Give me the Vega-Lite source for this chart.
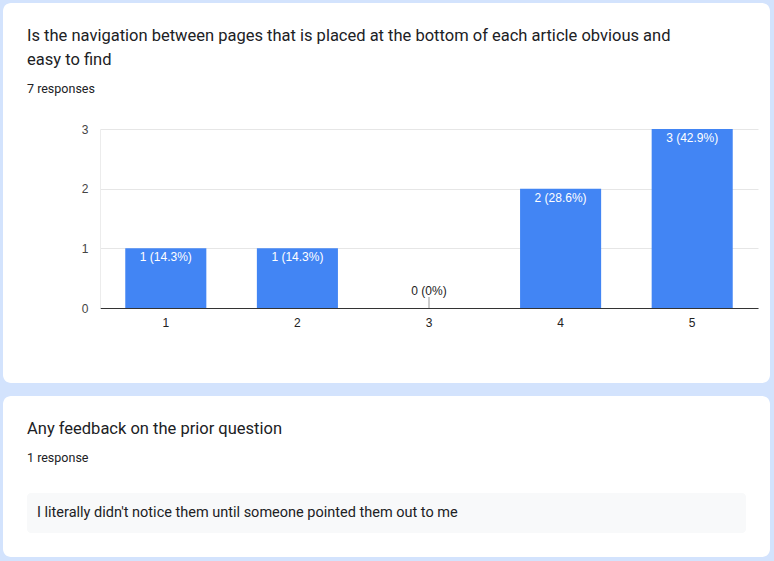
{
  "$schema": "https://vega.github.io/schema/vega-lite/v6.json",
  "background": "#d3e3fd",
  "padding": {"left": 3, "top": 3, "right": 4, "bottom": 4},
  "autosize": {"type": "pad"},
  "spacing": 13,
  "config": {
    "view": {"fill": "white", "stroke": null, "cornerRadius": 8},
    "font": "Roboto",
    "title": {
      "anchor": "start",
      "frame": "group",
      "dx": 24,
      "font": "Roboto",
      "fontSize": 16.5,
      "fontWeight": "normal",
      "color": "#202124",
      "lineHeight": 24,
      "subtitleFont": "Roboto",
      "subtitleFontSize": 12.5,
      "subtitleColor": "#202124",
      "subtitlePadding": 14
    }
  },
  "vconcat": [
    {
      "width": 767,
      "height": 380,
      "title": {
        "text": ["Is the navigation between pages that is placed at the bottom of each article obvious and", "easy to find"],
        "subtitle": "7 responses",
        "offset": -92
      },
      "data": {
        "values": [
          {"rating": "1", "count": 1, "label": "1 (14.3%)"},
          {"rating": "2", "count": 1, "label": "1 (14.3%)"},
          {"rating": "3", "count": 0, "label": "0 (0%)"},
          {"rating": "4", "count": 2, "label": "2 (28.6%)"},
          {"rating": "5", "count": 3, "label": "3 (42.9%)"}
        ]
      },
      "encoding": {
        "x": {
          "field": "rating",
          "type": "nominal",
          "sort": ["1", "2", "3", "4", "5"],
          "scale": {"type": "band", "range": [97, 755], "paddingInner": 0.384, "paddingOuter": 0.192},
          "axis": {
            "orient": "bottom",
            "offset": -75,
            "title": null,
            "labelAngle": 0,
            "ticks": false,
            "grid": false,
            "domainColor": "#333333",
            "labelPadding": 9,
            "labelFont": "Liberation Sans",
            "labelFontSize": 12,
            "labelColor": "#222222"
          }
        },
        "y": {
          "field": "count",
          "type": "quantitative",
          "scale": {"domain": [0, 3], "range": [305, 126], "nice": false},
          "axis": {
            "orient": "left",
            "offset": -97,
            "title": null,
            "values": [0, 0.5, 1, 1.5, 2, 2.5, 3],
            "format": "d",
            "labelExpr": "datum.value % 1 === 0 ? datum.label : ''",
            "grid": true,
            "gridColor": {"condition": {"test": "datum.value % 1 === 0", "value": "#e6e6e6"}, "value": "#f3f3f3"},
            "domain": true,
            "domainColor": "#ececec",
            "ticks": false,
            "labelPadding": 12,
            "labelFont": "Liberation Sans",
            "labelFontSize": 12,
            "labelColor": "#444444"
          }
        }
      },
      "layer": [
        {"mark": {"type": "bar", "color": "#4285f4"}},
        {
          "transform": [{"filter": "datum.count === 0"}],
          "mark": {"type": "rule", "color": "#999999", "y2Offset": -11},
          "encoding": {"y2": {"field": "count"}}
        },
        {
          "transform": [{"filter": "datum.count > 0"}],
          "mark": {"type": "text", "baseline": "top", "dy": 4, "color": "white", "font": "Liberation Sans", "fontSize": 12},
          "encoding": {"text": {"field": "label"}}
        },
        {
          "transform": [{"filter": "datum.count === 0"}],
          "mark": {"type": "text", "baseline": "alphabetic", "dy": -13, "color": "#222222", "font": "Liberation Sans", "fontSize": 12},
          "encoding": {"text": {"field": "label"}}
        }
      ]
    },
    {
      "width": 767,
      "height": 161,
      "title": {
        "text": "Any feedback on the prior question",
        "subtitle": "1 response",
        "offset": -68
      },
      "data": {
        "values": [
          {"response": "I literally didn't notice them until someone pointed them out to me"}
        ]
      },
      "layer": [
        {
          "mark": {"type": "rect", "fill": "#f8f9fa", "cornerRadius": 4},
          "encoding": {
            "x": {"field": "response", "type": "nominal", "scale": {"type": "band", "range": [24, 743], "paddingInner": 0, "paddingOuter": 0}, "axis": null},
            "y": {"field": "response", "type": "nominal", "scale": {"type": "band", "range": [97, 137], "paddingInner": 0, "paddingOuter": 0}, "axis": null}
          }
        },
        {
          "mark": {"type": "text", "align": "left", "baseline": "middle", "dx": 10, "fontSize": 14.5, "font": "Roboto", "color": "#202124"},
          "encoding": {
            "x": {"field": "response", "type": "nominal", "bandPosition": 0, "axis": null},
            "y": {"field": "response", "type": "nominal", "axis": null},
            "text": {"field": "response"}
          }
        }
      ]
    }
  ]
}
